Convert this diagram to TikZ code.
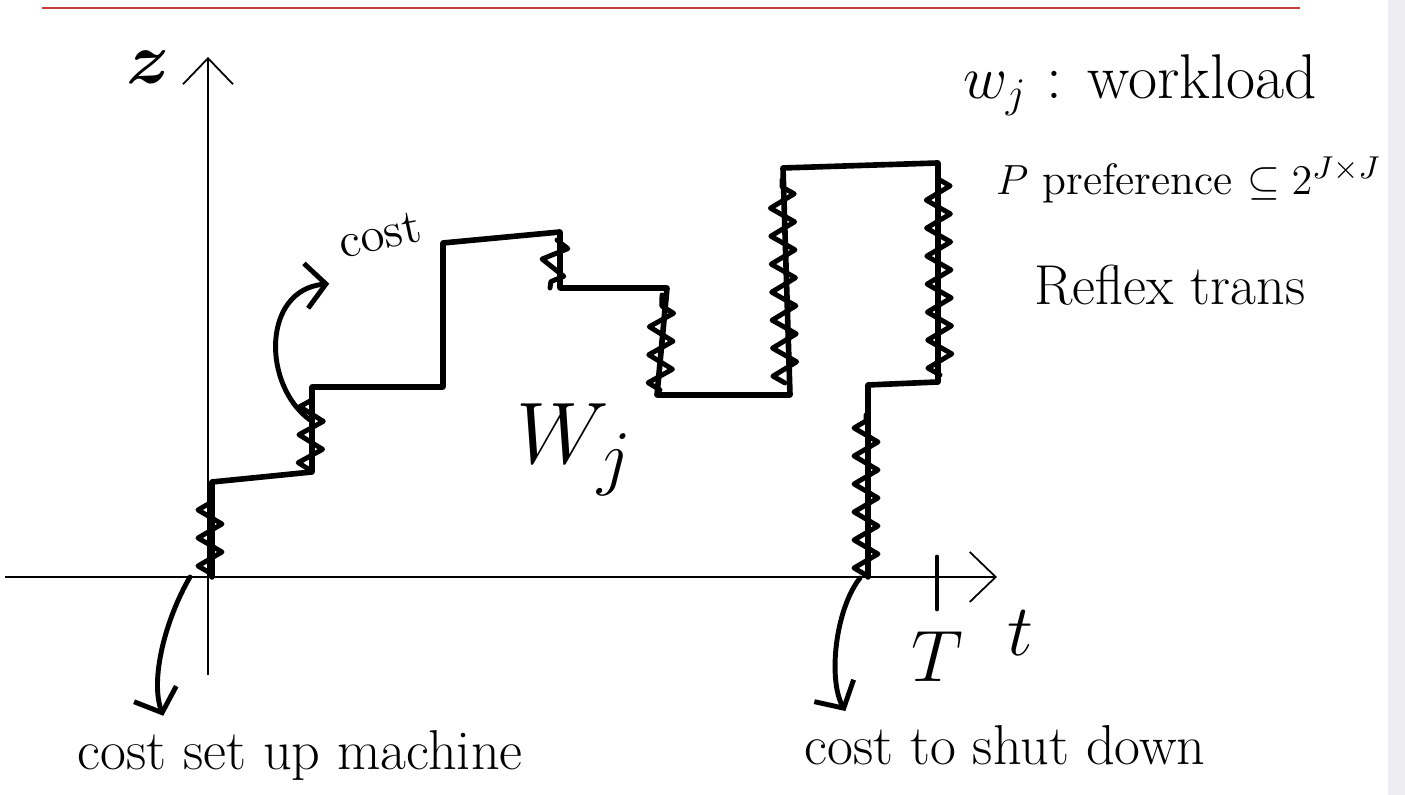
\documentclass[tikz,border=0pt]{standalone}
\usepackage{amsmath}
\usepackage{amssymb}
\usepackage{tikz}
\usetikzlibrary{arrows.meta, decorations.pathmorphing}

\definecolor{pagered}{RGB}{200,62,62}
\definecolor{sidebar}{RGB}{238,238,242}

\begin{document}
\begin{tikzpicture}[>={Straight Barb[length=2.6mm, width=5mm]},
    stepline/.style={line width=1.6pt, line join=round, line cap=round},
    scribble/.style={line width=1.4pt, line join=round, line cap=round,
        decorate, decoration={zigzag, segment length=2.8mm, amplitude=1.2mm}},
    pointer/.style={line width=1.4pt, line cap=round,
        -{Straight Barb[length=2mm, width=4.5mm, line width=1.4pt]}},
    hand/.style={inner sep=1pt}]

        \useasboundingbox (0,0) rectangle (14.05,7.95);

        % Page decoration
        \fill[sidebar] (13.88,0) rectangle (14.05,7.95);
        \draw[pagered, line width=0.8pt] (0.42,7.87) -- (13.00,7.87);

        % Axes
        \draw[->, line width=0.5pt] (0.05,2.18) -- (9.97,2.18);
        \draw[->, line width=0.5pt] (2.08,1.20) -- (2.08,7.38);
        \node[hand, font=\fontsize{20}{24}\selectfont\bfseries] (zlbl) at (1.48,7.28) {$\boldsymbol{z}$};

        % Tick at T
        \draw[line width=1.4pt, line cap=round] (9.37,2.38) -- (9.37,1.86);
        \node[hand, font=\fontsize{22}{26}\selectfont] (Tlbl) at (9.37,1.38) {$T$};
        \node[hand, font=\fontsize{22}{26}\selectfont] (tlbl) at (10.20,1.62) {$t$};

        % Workload W_j: step curve
        \draw[stepline]
            (2.12,2.18) -- (2.12,3.13) -- (3.12,3.23) -- (3.12,4.08)
            -- (4.43,4.08) -- (4.43,5.52) -- (5.60,5.63) -- (5.60,5.07)
            -- (6.67,5.07) -- (6.57,4.00) -- (7.90,4.00) -- (7.83,6.27)
            -- (9.38,6.32) -- (9.38,4.13) -- (8.68,4.10) -- (8.68,2.18);

        % Cost scribbles on the jumps
        \draw[scribble] (2.10,2.22) -- (2.10,3.00);
        \draw[scribble] (3.10,3.25) -- (3.12,3.98);
        \draw[scribble] (5.57,5.55) -- (5.50,5.07);
        \draw[scribble] (6.60,4.05) -- (6.62,5.00);
        \draw[scribble] (7.85,4.12) -- (7.82,6.15);
        \draw[scribble] (9.40,4.20) -- (9.38,6.20);
        \draw[scribble] (8.66,2.20) -- (8.66,3.80);

        \node[hand, font=\fontsize{30}{34}\selectfont] (Wlbl) at (5.75,3.45) {$W_j$};

        % Cost of a jump
        \coordinate (jump) at (3.10,3.75);
        \node[hand, font=\fontsize{14}{17}\selectfont, rotate=12] (costlbl) at (3.80,5.60) {cost};
        \draw[pointer] (jump) .. controls (2.62,4.10) and (2.62,5.05) .. ([xshift=-1mm, yshift=-2mm]costlbl.south west);

        % Set up and shut down
        \coordinate (start) at (1.90,2.18);
        \coordinate (stop) at (8.60,2.17);
        \node[hand, font=\fontsize{16}{19}\selectfont] (setuplbl) at (3.00,0.40) {cost set up machine};
        \node[hand, font=\fontsize{16}{19}\selectfont] (shutlbl) at (10.05,0.50) {cost to shut down};
        \draw[pointer] (start) .. controls (1.65,1.75) and (1.50,1.15) .. ([xshift=9mm, yshift=1mm]setuplbl.north west);
        \draw[pointer] (stop) .. controls (8.35,1.85) and (8.28,1.15) .. ([xshift=4.5mm, yshift=1mm]shutlbl.north west);

        % Notes
        \node[hand, font=\fontsize{18}{22}\selectfont] (wlbl) at (11.40,7.10) {$w_j$ : workload};
        \node[hand, font=\fontsize{12.5}{15}\selectfont, anchor=west] (plbl) at (9.92,6.15) {$P$ preference $\subseteq 2^{J\times J}$};
        \node[hand, font=\fontsize{16}{19}\selectfont] (rlbl) at (11.70,5.10) {Reflex trans};

    \end{tikzpicture}
\end{document}
